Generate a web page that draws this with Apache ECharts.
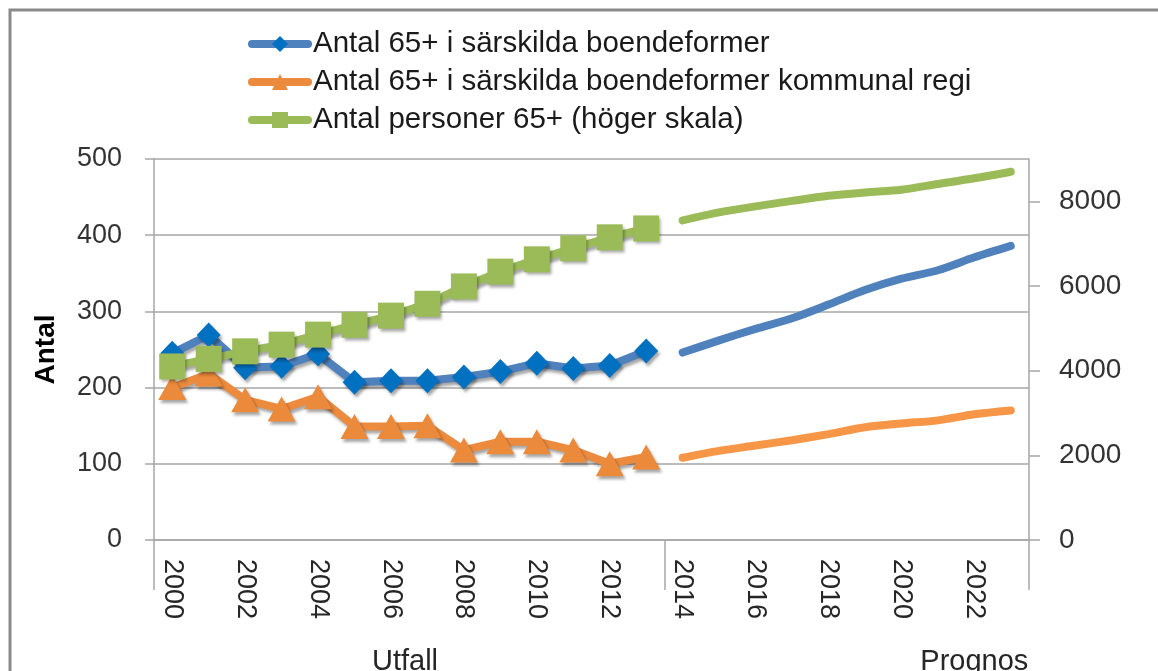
<!DOCTYPE html>
<html>
<head>
<meta charset="utf-8">
<script src="https://cdn.jsdelivr.net/npm/echarts@6/dist/echarts.min.js"></script>
<style>
  html, body { margin: 0; padding: 0; background: #fff; }
  #chart { width: 1158px; height: 671px; }
</style>
</head>
<body>
<div id="chart"></div>
<script>
// categories
var years = ['2000', '2001', '2002', '2003', '2004', '2005', '2006', '2007', '2008', '2009', '2010', '2011',
  '2012', '2013', '2014', '2015', '2016', '2017', '2018', '2019', '2020', '2021', '2022', '2023'];
var periods = ['Utfall', 'Prognos'];

// utfall 2000-2013
var antalSarskilt = [245, 269, 226, 228, 244, 207, 209, 209, 214, 221, 232, 225, 229, 248];
var antalKommunal = [200, 218, 184, 172, 188, 149, 149, 150, 118, 129, 129, 118, 100, 109];
var antalPersoner = [4100, 4277, 4457, 4615, 4852, 5083, 5300, 5580, 5990, 6340, 6630, 6890, 7150, 7360];

// prognos 2014-2023
var prognosSarskilt = [246, 262, 277, 291, 309, 328, 343, 354, 371, 386];
var prognosKommunal = [108, 117, 124, 131, 139, 148, 153, 157, 165, 170];
var prognosPersoner = [7550, 7740, 7880, 8010, 8130, 8210, 8275, 8410, 8545, 8700];

var leftTicks = [0, 100, 200, 300, 400, 500];
var rightTicks = [0, 2000, 4000, 6000, 8000];

var names = [
  'Antal 65+ i särskilda boendeformer',
  'Antal 65+ i särskilda boendeformer kommunal regi',
  'Antal personer 65+ (höger skala)'
];

var nHist = antalSarskilt.length;
function hist(arr) {
  return years.map(function (y, i) { return i < nHist ? arr[i] : null; });
}
function prog(arr) {
  return years.map(function (y, i) { return i >= nHist ? arr[i - nHist] : null; });
}

var gray = '#a6a6a6';
var font = 'Liberation Sans, Arial, sans-serif';
var shadow = {
  shadowColor: 'rgba(0,0,0,0.35)',
  shadowBlur: 3,
  shadowOffsetX: 2,
  shadowOffsetY: 3
};

function histSeries(name, data, yIdx, symbol, size, lineColor, markColor) {
  return {
    name: name,
    type: 'line',
    yAxisIndex: yIdx,
    data: hist(data),
    symbol: symbol,
    symbolSize: size,
    showAllSymbol: true,
    lineStyle: Object.assign({ color: lineColor, width: 8 }, shadow),
    itemStyle: Object.assign({ color: markColor }, shadow),
    emphasis: { disabled: true }
  };
}
function progSeries(name, data, yIdx, color) {
  return {
    name: name,
    type: 'line',
    yAxisIndex: yIdx,
    data: prog(data),
    symbol: 'none',
    smooth: 0.3,
    lineStyle: { color: color, width: 8, cap: 'round' },
    itemStyle: { color: color },
    emphasis: { disabled: true }
  };
}

var chart = echarts.init(document.getElementById('chart'));
chart.setOption({
  animation: false,
  textStyle: { fontFamily: font },
  graphic: [{
    type: 'rect',
    shape: { x: 10, y: 10, width: 1200, height: 700 },
    style: { fill: 'none', stroke: '#8a8a8a', lineWidth: 3 },
    silent: true
  }],
  legend: {
    orient: 'vertical',
    left: 248,
    top: 29,
    padding: 0,
    itemWidth: 56,
    itemHeight: 20,
    itemGap: 8,
    data: names,
    lineStyle: { width: 8, cap: 'round', shadowBlur: 0 },
    itemStyle: { shadowBlur: 0 },
    textStyle: { fontSize: 29.5, color: '#1a1a1a', lineHeight: 30, fontFamily: font }
  },
  grid: { left: 154, right: 129, top: 159, bottom: 131, outerBoundsMode: 'none', containLabel: false },
  xAxis: [{
    type: 'category',
    data: years,
    boundaryGap: true,
    axisLine: { lineStyle: { color: gray, width: 1.5 } },
    axisTick: { interval: 0, length: 83, lineStyle: { color: gray, width: 1.5 } },
    axisLabel: { interval: 1, rotate: -90, margin: 19, fontSize: 27, color: '#262626', fontFamily: font }
  }, {
    type: 'category',
    data: years,
    position: 'bottom',
    offset: 83,
    axisLine: { show: false },
    axisTick: {
      show: true,
      length: 50,
      interval: function (i) { return i === 0 || i === nHist; },
      lineStyle: { color: gray, width: 1.5 }
    },
    axisLabel: {
      interval: 0,
      margin: 24,
      fontSize: 29,
      color: '#262626',
      fontFamily: font,
      formatter: function (v, i) {
        if (i === 6) return '{u|' + periods[0] + '}';
        if (i === 22) return periods[1];
        return '';
      },
      rich: { u: { fontSize: 29, color: '#262626', fontFamily: font, padding: [0, 0, 0, 28] } }
    }
  }],
  yAxis: [{
    type: 'value',
    min: leftTicks[0],
    max: leftTicks[leftTicks.length - 1],
    interval: 100,
    name: 'Antal',
    nameLocation: 'middle',
    nameRotate: 90,
    nameGap: 94,
    nameTextStyle: { fontSize: 28, fontWeight: 'bold', color: '#000', fontFamily: font },
    axisLine: { show: true, lineStyle: { color: gray, width: 1.5 } },
    axisTick: { show: true, length: 9, lineStyle: { color: gray, width: 1.5 } },
    splitLine: { lineStyle: { color: gray, width: 1.5 } },
    axisLabel: { margin: 32, fontSize: 27, color: '#333', fontFamily: font, padding: [0, 0, 16, 0] }
  }, {
    type: 'value',
    position: 'right',
    min: 0,
    max: 9000,
    axisLine: { show: true, lineStyle: { color: gray, width: 1.5 } },
    axisTick: { show: true, length: 11, customValues: rightTicks, lineStyle: { color: gray, width: 1.5 } },
    splitLine: { show: false },
    axisLabel: {
      customValues: rightTicks,
      formatter: function (v) { return String(v); },
      margin: 30, fontSize: 28, color: '#333', fontFamily: font, padding: [0, 0, 14, 0]
    }
  }],
  series: [
    histSeries(names[0], antalSarskilt, 0, 'diamond', [24, 25], '#4f81bd', '#0070c0'),
    histSeries(names[1], antalKommunal, 0, 'triangle', [28, 25], '#ec8b3e', '#eb8a3b'),
    histSeries(names[2], antalPersoner, 1, 'rect', 26, '#9bbb59', '#9bbb59'),
    progSeries(names[0], prognosSarskilt, 0, '#4f81bd'),
    progSeries(names[1], prognosKommunal, 0, '#f79646'),
    progSeries(names[2], prognosPersoner, 1, '#9bbb59')
  ]
});
</script>
</body>
</html>
